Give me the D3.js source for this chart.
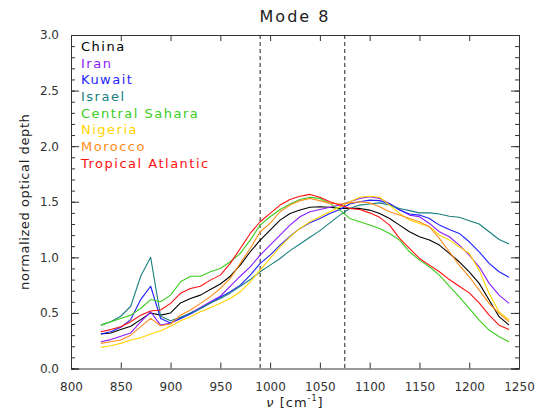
<!DOCTYPE html>
<html>
<head>
<meta charset="utf-8">
<script src="https://cdn.jsdelivr.net/npm/d3@7"></script>
<style>
  body { margin: 0; background: #fff; }
  text { font-family: "DejaVu Sans", sans-serif; }
</style>
</head>
<body>
<div id="chart"></div>
<script>
// wavenumbers (cm-1)
var wavenumbers = [830, 840, 850, 860, 870, 880, 890, 900, 910, 920, 930, 940, 950, 960, 970, 980, 990,
  1000, 1010, 1020, 1030, 1040, 1050, 1060, 1070, 1080, 1090, 1100, 1110, 1120, 1130, 1140, 1150,
  1160, 1170, 1180, 1190, 1200, 1210, 1220, 1230, 1240];

// normalized optical depth per site
var china = [0.31, 0.32, 0.35, 0.38, 0.44, 0.50, 0.48, 0.50, 0.59, 0.63, 0.66, 0.71, 0.76, 0.83, 0.93, 1.05, 1.155,
  1.245, 1.335, 1.395, 1.425, 1.45, 1.455, 1.45, 1.44, 1.44, 1.44, 1.425, 1.395, 1.35, 1.29, 1.23, 1.185,
  1.155, 1.11, 1.035, 0.96, 0.87, 0.766, 0.616, 0.466, 0.39];
var iran = [0.24, 0.26, 0.29, 0.32, 0.42, 0.51, 0.39, 0.41, 0.45, 0.50, 0.55, 0.60, 0.65, 0.74, 0.83, 0.915, 1.02,
  1.11, 1.20, 1.29, 1.365, 1.41, 1.43, 1.45, 1.47, 1.50, 1.53, 1.545, 1.53, 1.485, 1.43, 1.38, 1.365,
  1.305, 1.23, 1.185, 1.11, 1.02, 0.915, 0.766, 0.66, 0.586];
var kuwait = [0.31, 0.33, 0.37, 0.44, 0.62, 0.74, 0.45, 0.41, 0.45, 0.49, 0.54, 0.59, 0.64, 0.69, 0.75, 0.84, 0.945,
  1.02, 1.11, 1.19, 1.26, 1.31, 1.35, 1.395, 1.43, 1.48, 1.50, 1.515, 1.51, 1.48, 1.425, 1.39, 1.38,
  1.35, 1.29, 1.25, 1.215, 1.14, 1.05, 0.945, 0.87, 0.82];
var israel = [0.39, 0.42, 0.47, 0.56, 0.83, 1.00, 0.47, 0.43, 0.46, 0.50, 0.54, 0.59, 0.63, 0.68, 0.74, 0.80, 0.87,
  0.93, 0.99, 1.06, 1.12, 1.18, 1.24, 1.31, 1.38, 1.44, 1.47, 1.48, 1.49, 1.47, 1.44, 1.42, 1.40,
  1.40, 1.39, 1.37, 1.36, 1.33, 1.30, 1.23, 1.16, 1.12];
var centralSahara = [0.39, 0.42, 0.45, 0.48, 0.54, 0.62, 0.60, 0.66, 0.78, 0.83, 0.83, 0.87, 0.90, 0.96, 1.035, 1.155, 1.29,
  1.365, 1.43, 1.48, 1.52, 1.54, 1.53, 1.485, 1.425, 1.35, 1.32, 1.29, 1.26, 1.215, 1.155, 1.05, 0.975,
  0.915, 0.84, 0.74, 0.645, 0.54, 0.436, 0.346, 0.286, 0.24];
var nigeria = [0.19, 0.205, 0.226, 0.256, 0.277, 0.31, 0.34, 0.38, 0.43, 0.466, 0.51, 0.547, 0.586, 0.63, 0.69, 0.78, 0.885,
  0.99, 1.095, 1.185, 1.26, 1.32, 1.365, 1.41, 1.455, 1.50, 1.54, 1.55, 1.54, 1.47, 1.395, 1.335, 1.305,
  1.275, 1.20, 1.155, 1.095, 1.035, 0.885, 0.675, 0.51, 0.436];
var morocco = [0.226, 0.24, 0.256, 0.30, 0.376, 0.451, 0.385, 0.40, 0.48, 0.526, 0.586, 0.646, 0.72, 0.81, 0.946, 1.08, 1.23,
  1.305, 1.41, 1.47, 1.51, 1.53, 1.51, 1.485, 1.48, 1.49, 1.50, 1.49, 1.455, 1.41, 1.38, 1.35, 1.32,
  1.275, 1.17, 1.05, 0.93, 0.825, 0.705, 0.586, 0.496, 0.42];
var tropicalAtlantic = [0.33, 0.35, 0.376, 0.42, 0.48, 0.517, 0.526, 0.586, 0.676, 0.72, 0.74, 0.795, 0.84, 0.946, 1.08, 1.215, 1.32,
  1.395, 1.47, 1.52, 1.55, 1.566, 1.54, 1.50, 1.47, 1.44, 1.43, 1.40, 1.36, 1.29, 1.17, 1.08, 0.99,
  0.93, 0.87, 0.80, 0.74, 0.68, 0.59, 0.48, 0.39, 0.35];

var siteNames = ["China", "Iran", "Kuwait", "Israel", "Central Sahara", "Nigeria", "Morocco", "Tropical Atlantic"];
var siteColors = ["#000000", "#8a1cff", "#1f1fff", "#1a7f7f", "#3ccc1e", "#ffd400", "#ff8c1a", "#ff0f0f"];
var siteValues = [china, iran, kuwait, israel, centralSahara, nigeria, morocco, tropicalAtlantic];

// dashed reference wavenumbers
var markers = [990, 1075];

var xTicks = [800, 850, 900, 950, 1000, 1050, 1100, 1150, 1200, 1250];
var yTicks = [0, 0.5, 1.0, 1.5, 2.0, 2.5, 3.0];

// set the dimensions and margins of the graph
var margin = {top: 35, right: 26, bottom: 50.5, left: 71},
    width = 545 - margin.left - margin.right,
    height = 419 - margin.top - margin.bottom;

var svgRoot = d3.select("#chart")
  .append("svg")
    .attr("width", 545)
    .attr("height", 419);

var svg = svgRoot.append("g")
    .attr("transform", "translate(" + margin.left + "," + margin.top + ")");

var x = d3.scaleLinear().domain([800, 1250]).range([0, width]);
var y = d3.scaleLinear().domain([0, 3]).range([height, 0]);

// axes: inward ticks on all four sides like the original plot
svg.append("g")
  .attr("transform", "translate(0," + height + ")")
  .call(d3.axisBottom(x).tickValues(xTicks).tickSize(-6).tickPadding(14).tickFormat(d3.format("d")));
svg.append("g")
  .call(d3.axisTop(x).tickValues(xTicks).tickSize(-6).tickFormat(""));
svg.append("g")
  .call(d3.axisLeft(y).tickValues(d3.range(0, 3.01, 0.1)).tickSize(-4).tickFormat(""));
svg.append("g")
  .call(d3.axisLeft(y).tickValues(yTicks).tickSize(-8).tickPadding(12).tickFormat(d3.format(".1f")));
svg.append("g")
  .attr("transform", "translate(" + width + ",0)")
  .call(d3.axisRight(y).tickValues(d3.range(0, 3.01, 0.1)).tickSize(-4).tickFormat(""));
svg.append("g")
  .attr("transform", "translate(" + width + ",0)")
  .call(d3.axisRight(y).tickValues(yTicks).tickSize(-8).tickFormat(""));

svg.selectAll(".domain").attr("stroke", "#333");
svg.selectAll(".tick line").attr("stroke", "#333");
svg.selectAll(".tick text")
  .attr("font-family", "DejaVu Sans, sans-serif")
  .attr("font-size", 12)
  .attr("fill", "#333");

// dashed marker lines
svg.selectAll(".marker")
  .data(markers)
  .enter()
  .append("line")
    .attr("x1", function(d){ return x(d); })
    .attr("x2", function(d){ return x(d); })
    .attr("y1", 0)
    .attr("y2", height)
    .attr("stroke", "#222")
    .attr("stroke-width", 1)
    .attr("stroke-dasharray", "4,3");

// the spectra
var line = d3.line()
  .x(function(d, i){ return x(wavenumbers[i]); })
  .y(function(d){ return y(d); });

svg.selectAll(".site")
  .data(siteValues)
  .enter()
  .append("path")
    .attr("fill", "none")
    .attr("stroke", function(d, i){ return siteColors[i]; })
    .attr("stroke-width", 1.1)
    .attr("stroke-linejoin", "round")
    .attr("d", line);

// legend
svg.selectAll(".legend")
  .data(siteNames)
  .enter()
  .append("text")
    .attr("x", 10)
    .attr("y", function(d, i){ return 16 + i * 16.67; })
    .attr("font-size", 13)
    .attr("letter-spacing", 1.5)
    .attr("fill", function(d, i){ return siteColors[i]; })
    .style("white-space", "pre")
    .text(function(d){ return d; });

// title
svgRoot.append("text")
  .attr("x", margin.left + width / 2)
  .attr("y", 22)
  .attr("text-anchor", "middle")
  .attr("font-size", 16)
  .attr("letter-spacing", 2)
  .attr("fill", "#222")
  .text("Mode 8");

// axis titles
var xLabel = svgRoot.append("text")
  .attr("x", margin.left + width / 2)
  .attr("y", 407)
  .attr("text-anchor", "middle")
  .attr("font-size", 13)
  .attr("letter-spacing", 1)
  .attr("fill", "#222");
xLabel.append("tspan").attr("font-style", "italic").text("\u03bd");
xLabel.append("tspan").text(" [cm");
xLabel.append("tspan").attr("font-size", 8).attr("dy", -6).text("-1");
xLabel.append("tspan").attr("dy", 6).text("]");

svgRoot.append("text")
  .attr("transform", "translate(29," + (margin.top + height / 2) + ") rotate(-90)")
  .attr("text-anchor", "middle")
  .attr("font-size", 13)
  .attr("letter-spacing", 0.6)
  .attr("fill", "#222")
  .text("normalized optical depth");
</script>
</body>
</html>
